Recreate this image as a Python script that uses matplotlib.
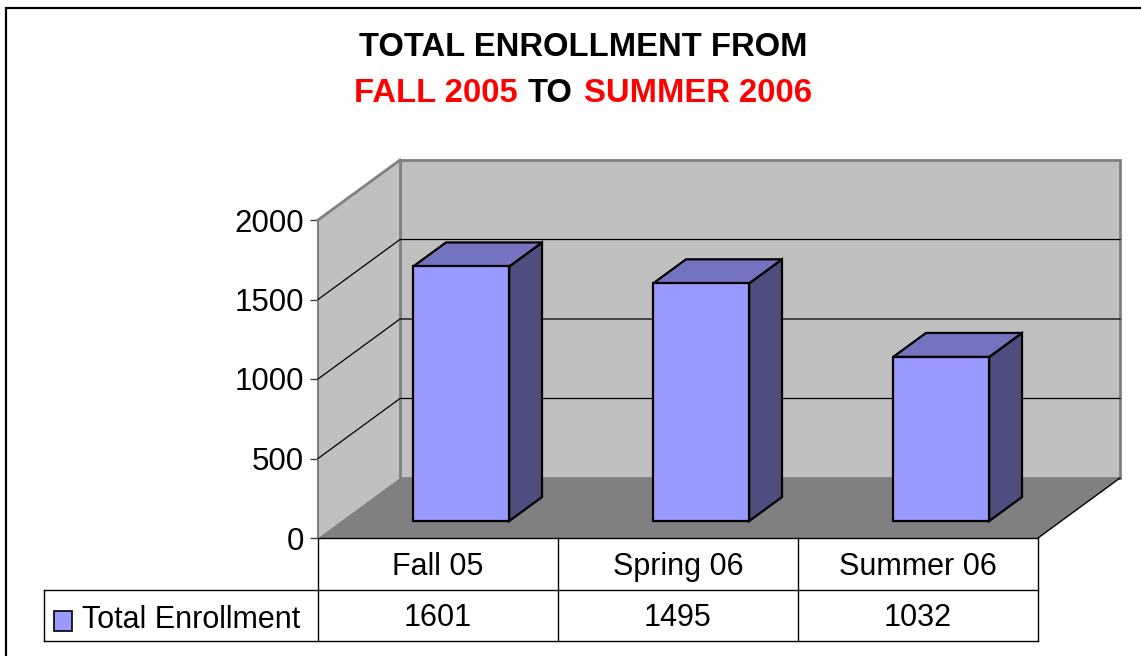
import matplotlib
matplotlib.use("Agg")
import matplotlib.pyplot as plt
from matplotlib.patches import Polygon, Rectangle
from matplotlib.lines import Line2D

plt.rcParams['font.family'] = ['Liberation Sans', 'DejaVu Sans']

# ---- data ----
categories = ["Fall 05", "Spring 06", "Summer 06"]
values = [1601, 1495, 1032]
series_name = "Total Enrollment"
yticks = [0, 500, 1000, 1500, 2000]
title_line1 = "TOTAL ENROLLMENT FROM"
title_parts = [("FALL 2005", "#FF0000"), ("TO", "#000000"), ("SUMMER 2006", "#FF0000")]

# ---- colors ----
C_FRONT = "#9999FF"
C_TOP = "#7373BF"
C_SIDE = "#4D4D80"
C_WALL = "#C0C0C0"
C_FLOOR = "#808080"
C_EDGE_WALL = "#808080"

W, H = 1141, 656
fig = plt.figure(figsize=(W / 100, H / 100), dpi=100)
fig.patch.set_facecolor("white")

# outer frame (extends past right/bottom edge like the reference)
fig.patches.append(Rectangle((6 / W, -0.05), 1.1, 1 - 8 / H + 0.05, transform=fig.transFigure,
                             fill=False, ec="#000000", lw=1.6, zorder=0))

# plot area: front plane
ax = fig.add_axes([318 / W, (H - 538) / H, 720 / W, 318 / H])
ax.set_xlim(0, len(categories))
ax.set_ylim(0, 2000)
ax.patch.set_alpha(0)

# depth offset expressed in data units (82 px right, 60 px up per full depth)
DX = 82 / 240.0
DY = 60 / 318.0 * 2000
PX = 2000 / 318.0  # data units per pixel (vertical)

def P(x, y, d):
    return (x + d * DX, y + d * DY)

n = len(categories)
ymax = yticks[-1]

def poly(pts, fc, ec="none", lw=0.0, z=1):
    p = Polygon(pts, closed=True, fc=fc, ec=ec, lw=lw, zorder=z, clip_on=False, joinstyle="miter")
    ax.add_patch(p)

# back wall
poly([P(0, 0, 1), P(n, 0, 1), P(n, ymax, 1), P(0, ymax, 1)], C_WALL, C_EDGE_WALL, 2.0, 1)
# left wall
poly([P(0, 0, 0), P(0, 0, 1), P(0, ymax, 1), P(0, ymax, 0)], C_WALL, "none", 0, 1)
ax.add_line(Line2D(*zip(P(0, ymax, 0), P(0, ymax, 1)), color=C_EDGE_WALL, lw=2.0, zorder=2, clip_on=False))
ax.add_line(Line2D(*zip(P(0, 0, 0), P(0, ymax, 0)), color=C_EDGE_WALL, lw=1.5, zorder=2, clip_on=False))
# floor
poly([P(0, 0, 0), P(n, 0, 0), P(n, 0, 1), P(0, 0, 1)], C_FLOOR, "none", 0, 1)
ax.add_line(Line2D(*zip(P(n, 0, 0), P(n, 0, 1)), color="black", lw=1.0, zorder=2, clip_on=False))
ax.add_line(Line2D(*zip(P(0, ymax, 1), P(0, 0, 1)), color=C_EDGE_WALL, lw=2.0, zorder=2, clip_on=False))

# gridlines
for v in yticks[1:-1]:
    pts = [P(0, v, 0), P(0, v, 1), P(n, v, 1)]
    ax.add_line(Line2D([p[0] for p in pts], [p[1] for p in pts], color="black", lw=0.9, zorder=2, clip_on=False))

# bars
bw = 0.4
d0, d1 = 0.283, 0.683
for i, v in enumerate(values):
    x0 = i + 0.5 - bw / 2
    x1 = i + 0.5 + bw / 2
    poly([P(x0, 0, d0), P(x1, 0, d0), P(x1, v, d0), P(x0, v, d0)], C_FRONT, "black", 1.6, 5)
    poly([P(x1, 0, d0), P(x1, 0, d1), P(x1, v, d1), P(x1, v, d0)], C_SIDE, "black", 1.6, 4)
    poly([P(x0, v, d0), P(x1, v, d0), P(x1, v, d1), P(x0, v, d1)], C_TOP, "black", 1.6, 4)

# y axis ticks/labels
ax.set_yticks(yticks)
ax.set_yticklabels([str(t) for t in yticks])
ax.set_xticks([])
ax.tick_params(axis="y", length=6, width=1, color="#404040", labelsize=22.5, pad=4)
for s in ["top", "right", "bottom", "left"]:
    ax.spines[s].set_visible(False)

# data table
R1 = 52 * PX
R2 = 103 * PX
XL = (44 - 318) / 240.0
tl = dict(color="black", lw=1.0, zorder=6, clip_on=False)
ax.add_line(Line2D([0, n], [0, 0], **tl))
ax.add_line(Line2D([XL, n], [-R1, -R1], **tl))
ax.add_line(Line2D([XL, n], [-R2, -R2], **tl))
for k in range(n + 1):
    ax.add_line(Line2D([k, k], [0, -R2], **tl))
ax.add_line(Line2D([XL, XL], [-R1, -R2], **tl))
for i, (c, v) in enumerate(zip(categories, values)):
    ax.text(i + 0.5, -R1 / 2 - 3 * PX, c, ha="center", va="center", fontsize=22, clip_on=False)
    ax.text(i + 0.5, -(R1 + R2) / 2 - 3 * PX, str(v), ha="center", va="center", fontsize=22, clip_on=False)
# legend key
ax.add_patch(Rectangle(((54 - 318) / 240.0, -(631 - 538) * PX), 18 / 240.0, 20 * PX,
                       fc=C_FRONT, ec="black", lw=1.2, clip_on=False, zorder=7))
ax.text((82 - 318) / 240.0, -(R1 + R2) / 2 - 5 * PX, series_name, ha="left", va="center", fontsize=22, clip_on=False)

# title
fig.text(583 / W, 1 - 47 / H, title_line1, ha="center", va="center", fontsize=23.6, fontweight="bold")
fig.text(518 / W, 1 - 93 / H, title_parts[0][0], ha="right", va="center", fontsize=23.6, fontweight="bold", color=title_parts[0][1])
fig.text(550 / W, 1 - 93 / H, title_parts[1][0], ha="center", va="center", fontsize=23.6, fontweight="bold", color=title_parts[1][1])
fig.text(584 / W, 1 - 93 / H, title_parts[2][0], ha="left", va="center", fontsize=23.6, fontweight="bold", color=title_parts[2][1])

fig.savefig("out.png", dpi=100)
